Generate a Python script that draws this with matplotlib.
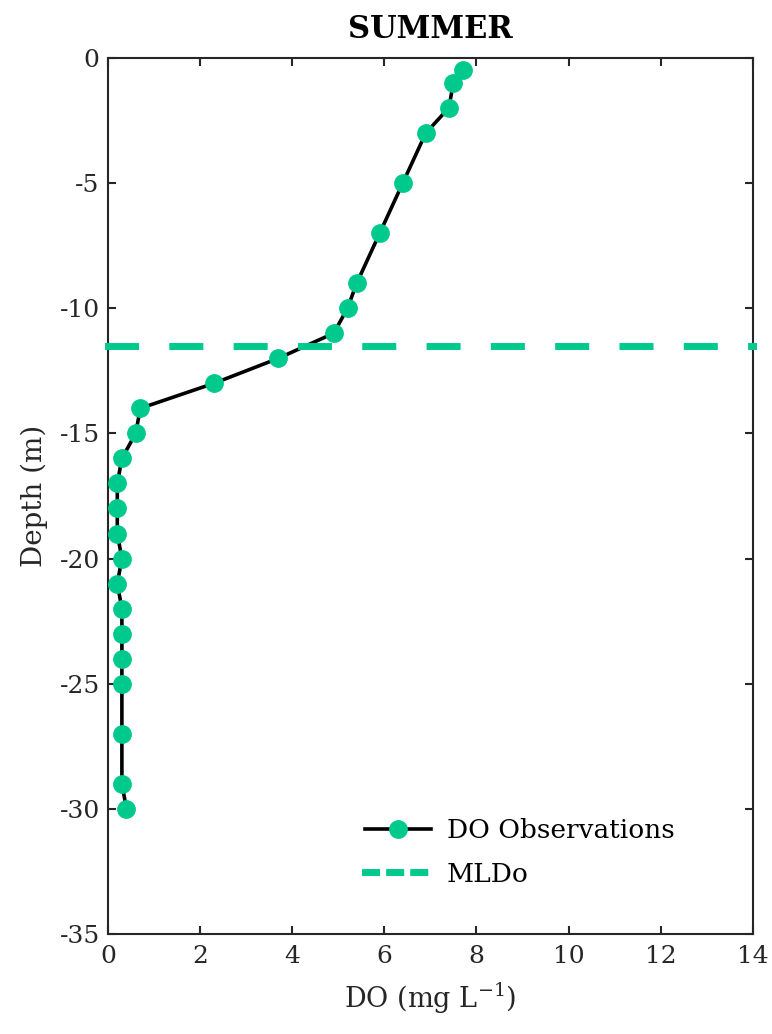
import matplotlib
matplotlib.use("Agg")
import matplotlib.pyplot as plt

do_values = [7.7, 7.5, 7.4, 6.9, 6.4, 5.9, 5.4, 5.2, 4.9, 3.7, 2.3, 0.7, 0.6,
             0.3, 0.2, 0.2, 0.2, 0.3, 0.2, 0.3, 0.3, 0.3, 0.3, 0.3, 0.3, 0.4]
depths = [-0.5, -1, -2, -3, -5, -7, -9, -10, -11, -12, -13, -14, -15,
          -16, -17, -18, -19, -20, -21, -22, -23, -24, -25, -27, -29, -30]
mld = -11.5
x_ticks = [0, 2, 4, 6, 8, 10, 12, 14]
y_ticks = [0, -5, -10, -15, -20, -25, -30, -35]

green = "#00C98D"
plt.rcParams['font.family'] = ['DejaVu Serif']
plt.rcParams['mathtext.default'] = 'regular'
plt.rcParams['axes.unicode_minus'] = False

fig = plt.figure(figsize=(7.72, 10.34), dpi=100)
ax = fig.add_axes([0.140, 0.0967, 0.835, 0.8473])

ax.plot(do_values, depths, color='black', lw=2.6, marker='o', ms=12.5,
        mfc=green, mec=green, label='DO Observations', zorder=3)
ax.plot([0, 14], [mld, mld], color=green, lw=5, dashes=(3.9, 5.36),
        dash_capstyle='projecting', clip_on=False, label='MLDo', zorder=4)

ax.set_xlim(0, 14)
ax.set_ylim(-35, 0)
ax.set_xticks(x_ticks)
ax.set_yticks(y_ticks)
ax.tick_params(direction='in', length=6, width=1.5, top=True, right=True,
               labelsize=18, colors='#262626', labelcolor='#262626', pad=6)
ax.tick_params(axis='x', pad=8)
for s in ax.spines.values():
    s.set_linewidth(1.5)
    s.set_color('#262626')

ax.set_xlabel('DO (mg L$^{-1}$)', fontsize=19.5, color='#262626', labelpad=9)
ax.set_ylabel('Depth (m)', fontsize=20, color='#262626', labelpad=8)
ax.set_title('SUMMER', fontsize=22, fontweight='bold', pad=14)

leg = ax.legend(loc='lower right', bbox_to_anchor=(0.916, 0.027), frameon=False,
                fontsize=19, handlelength=2.5, handletextpad=0.6, labelspacing=0.7)
leg_lines = leg.get_lines()
leg_lines[1].set_dashes((1.6, 1.87))
leg_lines[1].set_dash_capstyle('projecting')

fig.savefig('out.png', dpi=100)
